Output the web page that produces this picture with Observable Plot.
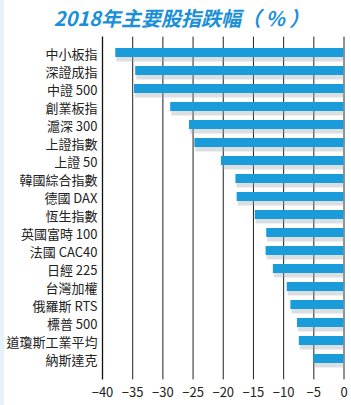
<!DOCTYPE html>
<html>
<head>
<meta charset="utf-8">
<script src="https://cdn.jsdelivr.net/npm/d3@7"></script>
<script src="https://cdn.jsdelivr.net/npm/@observablehq/plot@0.6"></script>
<style>
  html, body { margin: 0; padding: 0; background: #ffffff; }
  #wrap { width: 351px; height: 405px; position: relative; overflow: hidden; background: #fff;
          border-left: 4px solid #e6f1f9; box-sizing: border-box; }
  #title { height: 34px; line-height: 36px; text-align: center; font-family: "Noto Sans CJK TC", "Noto Sans", sans-serif;
           font-weight: bold; font-style: italic; font-size: 20px; color: #1a90d8; padding-left: 8px; }
  #chart svg { display: block; }
</style>
</head>
<body>
<div id="wrap">
  <div id="title">2018年主要股指跌幅（ % ）</div>
  <div id="chart"></div>
</div>
<script>
const indexNames = ["中小板指","深證成指","中證 500","創業板指","滬深 300","上證指數","上證 50","韓國綜合指數","德國 DAX","恆生指數","英國富時 100","法國 CAC40","日經 225","台灣加權","俄羅斯 RTS","標普 500","道瓊斯工業平均","納斯達克"];
const declines = [-37.8, -34.5, -34.7, -28.7, -25.6, -24.7, -20.3, -17.9, -17.7, -14.7, -12.8, -12.9, -11.7, -9.4, -8.8, -7.7, -7.4, -5.0];
const xTicks = [-40, -35, -30, -25, -20, -15, -10, -5, 0];

const data = indexNames.map((name, i) => ({name, value: declines[i]}));

const chart = Plot.plot({
  width: 347,
  height: 371,
  marginTop: 4.6,
  marginBottom: 28.6,
  marginLeft: 98,
  marginRight: 7.5,
  style: {fontFamily: "'Noto Sans CJK TC', 'Noto Sans', sans-serif", fontSize: "13px", color: "#222", background: "transparent"},
  x: {domain: [-40, 0], ticks: xTicks, label: null, tickSize: 0, tickPadding: 11},
  y: {domain: indexNames, label: null, paddingInner: 0.5, paddingOuter: 0.25, tickSize: 0, tickPadding: 5},
  marks: [
    Plot.ruleX(xTicks.slice(1), {stroke: "#222", strokeWidth: 1, insetTop: -2, insetBottom: -3}),
    Plot.ruleX([-40], {stroke: "#111", strokeWidth: 1.3, insetTop: -2, insetBottom: -3}),
    Plot.barX(data, {x1: 0, x2: "value", y: "name", fill: "#9aa3aa", fillOpacity: 0.35, dy: 2.5, dx: 1}),
    Plot.barX(data, {x1: 0, x2: "value", y: "name", fill: "#1a9cdb", dy: -2})
  ]
});
document.getElementById("chart").appendChild(chart);
d3.select(chart).selectAll("[aria-label='y-axis tick label'] text, [aria-label='x-axis tick label'] text").attr("fill", "#222");
</script>
</body>
</html>
